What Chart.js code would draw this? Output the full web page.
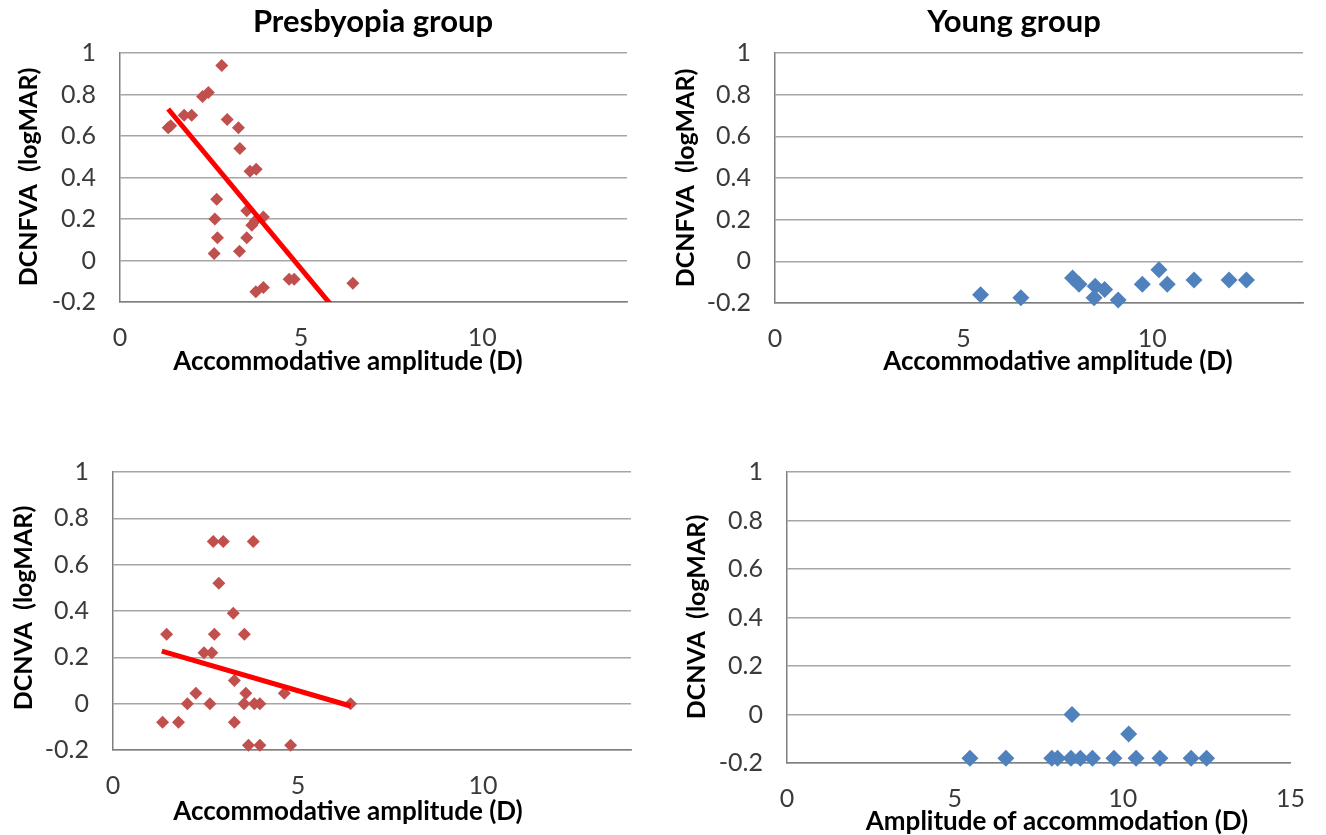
<!DOCTYPE html>
<html>
<head>
<meta charset="utf-8">
<script src="https://cdn.jsdelivr.net/npm/chart.js@4/dist/chart.umd.min.js"></script>
<style>
  html, body { margin: 0; padding: 0; background: #fff; }
  #page { position: relative; width: 1326px; height: 835px; overflow: hidden; }
  .panel { position: absolute; }
</style>
</head>
<body>
<div id="page">
  <div class="panel" style="left:0;top:0"><canvas id="c1" width="663" height="400"></canvas></div>
  <div class="panel" style="left:663px;top:0"><canvas id="c2" width="663" height="400"></canvas></div>
  <div class="panel" style="left:0;top:400px"><canvas id="c3" width="663" height="435"></canvas></div>
  <div class="panel" style="left:663px;top:400px"><canvas id="c4" width="663" height="435"></canvas></div>
</div>
<script>
// Presbyopia group, distance-corrected far VA
const presbyFarAA = [2.81, 2.28, 2.44, 1.33, 1.40, 1.77, 1.98, 2.96, 3.27, 3.31, 3.59, 3.76, 2.67, 2.62,
                     2.69, 2.60, 3.30, 3.50, 3.50, 3.64, 3.73, 3.96, 3.75, 3.96, 4.67, 4.81, 6.43];
const presbyDCNFVA = [0.94, 0.79, 0.81, 0.64, 0.65, 0.70, 0.70, 0.68, 0.64, 0.54, 0.43, 0.44, 0.295, 0.20,
                      0.11, 0.034, 0.045, 0.11, 0.24, 0.17, 0.19, 0.21, -0.15, -0.13, -0.09, -0.09, -0.11];
const presbyFarTrendX = [1.33, 6.43];
const presbyFarTrendY = [0.73, -0.34];

// Presbyopia group, near VA
const presbyNearAA = [1.34, 1.77, 1.45, 2.01, 2.24, 2.46, 2.67, 2.62, 2.71, 2.98, 2.74, 2.86, 3.25,
                      3.28, 3.28, 3.55, 3.59, 3.54, 3.79, 3.82, 3.97, 3.66, 3.97, 4.63, 4.80, 6.42];
const presbyDCNVA = [-0.08, -0.08, 0.30, 0.0, 0.045, 0.22, 0.22, 0.0, 0.70, 0.70, 0.30, 0.52, 0.39,
                     0.10, -0.08, 0.30, 0.045, 0.0, 0.70, 0.0, 0.0, -0.18, -0.18, 0.045, -0.18, 0.0];
const presbyNearTrendX = [1.32, 6.42];
const presbyNearTrendY = [0.227, -0.01];

// Young group
const youngAA = [5.45, 6.52, 7.89, 8.06, 8.49, 8.46, 8.74, 9.10, 9.74, 10.18, 10.40, 11.11, 12.04, 12.50];
const youngDCNFVA = [-0.16, -0.175, -0.08, -0.11, -0.12, -0.175, -0.135, -0.185, -0.11, -0.04, -0.11, -0.09, -0.09, -0.09];
const youngDCNVA = [-0.18, -0.18, -0.18, -0.18, 0, -0.18, -0.18, -0.18, -0.18, -0.08, -0.18, -0.18, -0.18, -0.18];

// axis ticks
const yTicks = [-0.2, 0, 0.2, 0.4, 0.6, 0.8, 1];
const xTicksShort = [0, 5, 10];
const xTicksLong = [0, 5, 10, 15];

const FONT = 'Lato, "Open Sans", sans-serif';
const RED = '#C0504D';
const BLUE = '#4F81BD';

const pts = (xs, ys) => xs.map((x, i) => ({ x: x, y: ys[i] }));

// draws titles / axis titles at fixed spots of each panel
const panelText = {
  id: 'panelText',
  afterDraw(chart, args, opts) {
    const ctx = chart.ctx;
    (opts.items || []).forEach(it => {
      ctx.save();
      ctx.font = it.font;
      ctx.fillStyle = '#000';
      ctx.textAlign = 'center';
      ctx.textBaseline = 'middle';
      ctx.translate(it.x, it.y);
      if (it.rotate) ctx.rotate(-Math.PI / 2);
      ctx.fillText(it.text, 0, 0);
      ctx.restore();
    });
  }
};

function makePanel(id, cfg) {
  const datasets = [];
  if (cfg.trend) {
    datasets.push({
      data: pts(cfg.trend[0], cfg.trend[1]),
      showLine: true,
      borderColor: '#FF0000',
      borderWidth: 5,
      pointRadius: 0,
      order: 0
    });
  }
  datasets.push({
    data: pts(cfg.xs, cfg.ys),
    pointStyle: 'rectRot',
    pointRadius: cfg.radius,
    backgroundColor: cfg.color,
    borderColor: cfg.color,
    borderWidth: 0,
    clip: false,
    order: 1
  });

  new Chart(document.getElementById(id), {
    type: 'scatter',
    data: { datasets: datasets },
    plugins: [panelText],
    options: {
      responsive: false,
      animation: false,
      layout: { padding: { top: cfg.area.top, right: cfg.area.right, left: 0, bottom: 0 } },
      plugins: {
        legend: { display: false },
        tooltip: { enabled: false },
        panelText: { items: cfg.texts }
      },
      scales: {
        x: {
          type: 'linear',
          min: 0,
          max: cfg.xMax,
          afterBuildTicks: s => { s.ticks = cfg.xTicks.map(v => ({ value: v })); },
          afterFit: s => { s.height = cfg.area.xHeight; },
          grid: { color: 'rgba(0,0,0,0)', drawTicks: false },
          border: { display: true, color: '#7f7f7f', width: 1.5 },
          ticks: {
            padding: 21,
            color: '#3a3a3a',
            font: { family: FONT, size: 25 },
            callback: v => String(v)
          }
        },
        y: {
          type: 'linear',
          min: -0.2,
          max: 1,
          afterBuildTicks: s => { s.ticks = yTicks.map(v => ({ value: v })); },
          afterFit: s => { s.width = cfg.area.left; },
          grid: { color: '#a6a6a6', lineWidth: 1.5, drawTicks: false },
          border: { display: true, color: '#7f7f7f', width: 1.5 },
          ticks: {
            padding: 24,
            color: '#3a3a3a',
            font: { family: FONT, size: 25 },
            callback: v => String(Math.round(v * 10) / 10)
          }
        }
      }
    }
  });
}

const bold = size => 'bold ' + size + 'px ' + FONT;

makePanel('c1', {
  xs: presbyFarAA, ys: presbyDCNFVA, trend: [presbyFarTrendX, presbyFarTrendY],
  color: RED, radius: 6.5, xMax: 14, xTicks: xTicksShort,
  area: { left: 120, top: 53, right: 36, xHeight: 98 },
  texts: [
    { text: 'Presbyopia group', x: 373, y: 22, font: bold(31) },
    { text: 'DCNFVA  (logMAR)', x: 29, y: 177, rotate: true, font: bold(25) },
    { text: 'Accommodative amplitude (D)', x: 348, y: 362, font: bold(26) }
  ]
});

makePanel('c2', {
  xs: youngAA, ys: youngDCNFVA,
  color: BLUE, radius: 8.5, xMax: 14, xTicks: xTicksShort,
  area: { left: 112, top: 53, right: 23, xHeight: 97 },
  texts: [
    { text: 'Young group', x: 351, y: 22, font: bold(31) },
    { text: 'DCNFVA  (logMAR)', x: 23, y: 178, rotate: true, font: bold(25) },
    { text: 'Accommodative amplitude (D)', x: 395, y: 362, font: bold(26) }
  ]
});

makePanel('c3', {
  xs: presbyNearAA, ys: presbyDCNVA, trend: [presbyNearTrendX, presbyNearTrendY],
  color: RED, radius: 6.5, xMax: 14, xTicks: xTicksShort,
  area: { left: 113, top: 72, right: 32, xHeight: 85 },
  texts: [
    { text: 'DCNVA  (logMAR)', x: 24, y: 208, rotate: true, font: bold(25) },
    { text: 'Accommodative amplitude (D)', x: 348, y: 412, font: bold(26) }
  ]
});

makePanel('c4', {
  xs: youngAA, ys: youngDCNVA,
  color: BLUE, radius: 8.5, xMax: 15, xTicks: xTicksLong,
  area: { left: 124, top: 72, right: 19, xHeight: 72 },
  texts: [
    { text: 'DCNVA  (logMAR)', x: 34, y: 217, rotate: true, font: bold(25) },
    { text: 'Amplitude of accommodation (D)', x: 394, y: 422, font: bold(26) }
  ]
});
</script>
</body>
</html>
